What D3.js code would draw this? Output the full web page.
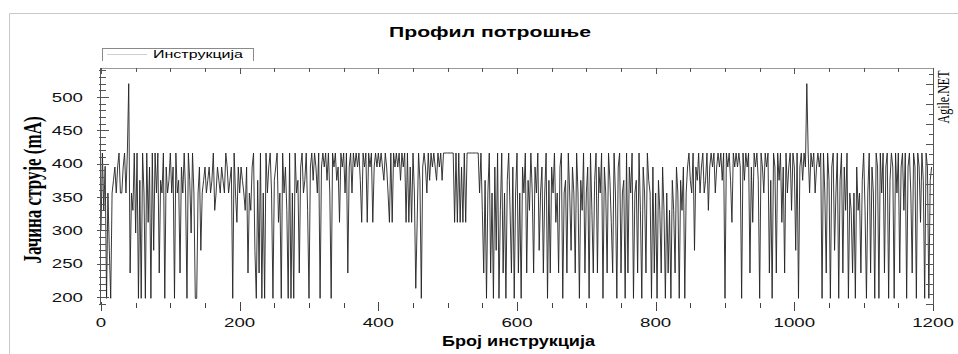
<!DOCTYPE html>
<html>
<head>
<meta charset="utf-8">
<script src="https://cdn.jsdelivr.net/npm/d3@7"></script>
<style>
  body { margin: 0; background: #fff; }
  svg { display: block; }
</style>
</head>
<body>
<svg id="canvas" width="958" height="354"></svg>
<script>
// current per instruction, sampled every 2nd instruction (mA)
const step = 2;
const current = [
  300, 416, 330, 396, 198, 356, 270, 198, 356, 375, 395, 356, 395, 416, 356, 356, 395, 416, 356, 416,
  520, 236, 356, 330, 416, 296, 416, 198, 375, 198, 416, 356, 198, 416, 312, 395, 198, 416, 270, 416,
  356, 416, 236, 375, 356, 416, 198, 395, 356, 375, 416, 356, 395, 198, 416, 356, 375, 236, 395, 356,
  416, 356, 198, 416, 375, 296, 416, 356, 198, 198, 356, 395, 270, 356, 375, 395, 356, 375, 395, 356,
  375, 416, 330, 356, 395, 375, 356, 395, 375, 356, 416, 395, 356, 375, 395, 198, 416, 356, 312, 395,
  356, 395, 375, 356, 330, 395, 236, 356, 330, 395, 416, 270, 198, 375, 236, 416, 198, 356, 198, 416,
  356, 395, 416, 356, 198, 375, 395, 416, 312, 356, 198, 416, 356, 395, 330, 198, 416, 198, 356, 198,
  416, 356, 375, 236, 395, 416, 356, 375, 416, 330, 198, 395, 416, 375, 416, 395, 356, 416, 198, 395,
  416, 395, 416, 375, 416, 356, 198, 416, 395, 416, 375, 395, 312, 416, 395, 416, 356, 416, 236, 395,
  416, 356, 416, 395, 416, 395, 416, 375, 312, 416, 395, 416, 312, 416, 395, 416, 312, 395, 416, 395,
  416, 395, 416, 395, 375, 416, 395, 356, 312, 416, 312, 416, 395, 416, 395, 416, 375, 416, 395, 416,
  312, 416, 312, 395, 312, 416, 356, 213, 312, 416, 375, 198, 395, 416, 395, 356, 416, 375, 416, 395,
  416, 395, 375, 416, 395, 416, 375, 416, 416, 416, 416, 416, 416, 416, 416, 312, 416, 312, 416, 312,
  395, 312, 416, 312, 416, 416, 416, 416, 416, 416, 416, 416, 416, 356, 416, 330, 236, 375, 198, 356,
  416, 236, 356, 198, 395, 270, 416, 198, 330, 416, 236, 356, 198, 375, 416, 330, 236, 395, 198, 356,
  416, 236, 356, 198, 395, 356, 416, 236, 375, 330, 416, 356, 236, 395, 356, 416, 270, 356, 395, 236,
  356, 416, 198, 375, 236, 395, 356, 416, 312, 356, 236, 395, 416, 198, 356, 375, 236, 416, 356, 270,
  395, 356, 236, 416, 356, 198, 375, 330, 416, 236, 356, 395, 198, 416, 330, 236, 375, 416, 236, 395,
  356, 416, 198, 395, 356, 236, 416, 375, 312, 236, 416, 356, 198, 395, 416, 236, 356, 375, 198, 416,
  236, 395, 356, 416, 198, 356, 375, 236, 416, 330, 198, 395, 356, 236, 416, 375, 356, 198, 395, 236,
  356, 198, 375, 330, 236, 395, 330, 198, 356, 236, 330, 198, 375, 330, 236, 395, 356, 198, 375, 330,
  395, 198, 356, 395, 416, 375, 356, 416, 270, 395, 375, 416, 356, 395, 416, 356, 375, 416, 330, 395,
  416, 395, 416, 356, 395, 416, 395, 416, 375, 416, 198, 416, 395, 416, 375, 312, 416, 395, 416, 395,
  416, 395, 198, 416, 375, 416, 395, 416, 236, 395, 312, 416, 395, 416, 375, 198, 416, 395, 356, 416,
  395, 416, 236, 375, 198, 416, 395, 236, 416, 375, 416, 312, 395, 236, 416, 356, 395, 416, 330, 416,
  395, 270, 416, 198, 395, 416, 375, 416, 395, 520, 416, 356, 416, 395, 416, 356, 395, 416, 395, 416,
  198, 416, 356, 236, 416, 375, 198, 395, 416, 270, 356, 416, 198, 375, 416, 236, 395, 330, 416, 198,
  356, 330, 236, 356, 198, 395, 330, 356, 236, 375, 416, 330, 198, 356, 416, 236, 395, 356, 198, 416,
  395, 198, 416, 356, 416, 236, 395, 416, 198, 375, 416, 395, 198, 416, 356, 416, 236, 395, 416, 330,
  416, 198, 395, 416, 356, 236, 416, 395, 198, 416, 395, 312, 416, 375, 198, 416, 395, 198, 375, 395
];
const yTicks = [200, 250, 300, 350, 400, 450, 500];
const xTicks = [0, 200, 400, 600, 800, 1000, 1200];
const title = "Профил потрошње";
const xTitle = "Број инструкција";
const yTitle = "Јачина струје (mA)";
const seriesName = "Инструкција";
const sideLabel = "Agile.NET";

const svg = d3.select("svg#canvas");
const sans = "'Liberation Sans', Arial, sans-serif";
const serif = "'Liberation Serif', 'Times New Roman', serif";

const x = d3.scaleLinear().domain([0, 1200]).range([101, 933]);
const y = d3.scaleLinear().domain([188, 543.5]).range([305, 68]);
const plotTop = y.range()[1], plotBottom = y.range()[0];

// outer frame (only top and left edges visible)
svg.append("path")
  .attr("d", "M9.5,354V13.5H958")
  .attr("fill", "none").attr("stroke", "#c8c8c8");

// trace
const line = d3.line().x((d, i) => x(i * step)).y((d) => y(d));
svg.append("path")
  .datum(current)
  .attr("fill", "none")
  .attr("stroke", "#222")
  .attr("stroke-width", 0.9)
  .attr("d", line);

// top axis line + ticks, bottom ticks
const g = svg.append("g").attr("stroke-width", 1).attr("shape-rendering", "crispEdges");
g.append("line").attr("x1", x(0)).attr("x2", x(1200)).attr("y1", plotTop + 0.5).attr("y2", plotTop + 0.5).attr("stroke", "#9a9a9a");
d3.range(0, 1201, 50).forEach((v) => {
  const major = v % 200 === 0;
  const xx = Math.round(x(v)) + 0.5;
  g.append("line").attr("x1", xx).attr("x2", xx)
    .attr("y1", plotTop).attr("y2", plotTop + (major ? 6 : 4)).attr("stroke", "#555");
  g.append("line").attr("x1", xx).attr("x2", xx)
    .attr("y1", plotBottom - 2 - (major ? 1 : 0)).attr("y2", plotBottom + 3 + (major ? 3 : 0)).attr("stroke", "#444");
});

// left axis
g.append("line").attr("x1", x(0) - 0.5).attr("x2", x(0) - 0.5).attr("y1", plotTop).attr("y2", plotBottom).attr("stroke", "#555");
d3.range(190, 541, 10).forEach((v) => {
  const major = v % 50 === 0;
  const yy = Math.round(y(v)) + 0.5;
  g.append("line").attr("x1", x(0) - (major ? 4 : 2)).attr("x2", x(0) + (major ? 8 : 5))
    .attr("y1", yy).attr("y2", yy).attr("stroke", "#555");
});

// right axis
g.append("line").attr("x1", x(1200) + 0.5).attr("x2", x(1200) + 0.5).attr("y1", plotTop).attr("y2", plotBottom).attr("stroke", "#555");
d3.range(190, 541, 15).forEach((v, i) => {
  const yy = Math.round(y(v)) + 0.5;
  g.append("line").attr("x1", x(1200) - (i % 2 === 0 ? 7 : 4)).attr("x2", x(1200))
    .attr("y1", yy).attr("y2", yy).attr("stroke", "#555");
});

// tick labels (the original sans text is drawn wide, so fit it by length)
const digitW = 10.4;
svg.append("g").selectAll("text").data(yTicks).join("text")
  .attr("x", 83).attr("y", (d) => y(d) + 4.5)
  .attr("text-anchor", "end")
  .attr("font-family", sans).attr("font-size", 13).attr("fill", "#111")
  .attr("textLength", (d) => String(d).length * digitW).attr("lengthAdjust", "spacingAndGlyphs")
  .text((d) => d);

svg.append("g").selectAll("text").data(xTicks).join("text")
  .attr("x", (d) => x(d)).attr("y", 327)
  .attr("text-anchor", "middle")
  .attr("font-family", sans).attr("font-size", 13).attr("fill", "#111")
  .attr("textLength", (d) => String(d).length * digitW).attr("lengthAdjust", "spacingAndGlyphs")
  .text((d) => d);

// titles
svg.append("text")
  .attr("x", 490).attr("y", 37).attr("text-anchor", "middle")
  .attr("font-family", sans).attr("font-size", 15).attr("font-weight", "bold").attr("fill", "#000")
  .attr("textLength", 202).attr("lengthAdjust", "spacingAndGlyphs")
  .text(title);

svg.append("text")
  .attr("x", 518.5).attr("y", 346).attr("text-anchor", "middle")
  .attr("font-family", sans).attr("font-size", 14).attr("font-weight", "bold").attr("fill", "#000")
  .attr("textLength", 153).attr("lengthAdjust", "spacingAndGlyphs")
  .text(xTitle);

// rotated labels are drawn wide across their baseline as well
svg.append("text")
  .attr("transform", "translate(41,190) scale(1.45,1) rotate(-90)")
  .attr("text-anchor", "middle")
  .attr("font-family", serif).attr("font-size", 17).attr("font-weight", "bold").attr("fill", "#000")
  .text(yTitle);

svg.append("text")
  .attr("transform", "translate(949,97) scale(1.45,1) rotate(-90)")
  .attr("text-anchor", "middle")
  .attr("font-family", serif).attr("font-size", 12).attr("fill", "#000")
  .text(sideLabel);

// legend
const legend = svg.append("g").attr("shape-rendering", "crispEdges");
legend.append("path").attr("d", "M102.5,61V48.5H253.5V61")
  .attr("fill", "none").attr("stroke", "#8a8a8a");
legend.append("line").attr("x1", 107).attr("x2", 147).attr("y1", 54.5).attr("y2", 54.5)
  .attr("stroke", "#cfcfcf");
legend.append("text")
  .attr("x", 153).attr("y", 58)
  .attr("font-family", sans).attr("font-size", 11).attr("fill", "#000")
  .attr("textLength", 90).attr("lengthAdjust", "spacingAndGlyphs")
  .text(seriesName);
</script>
</body>
</html>
